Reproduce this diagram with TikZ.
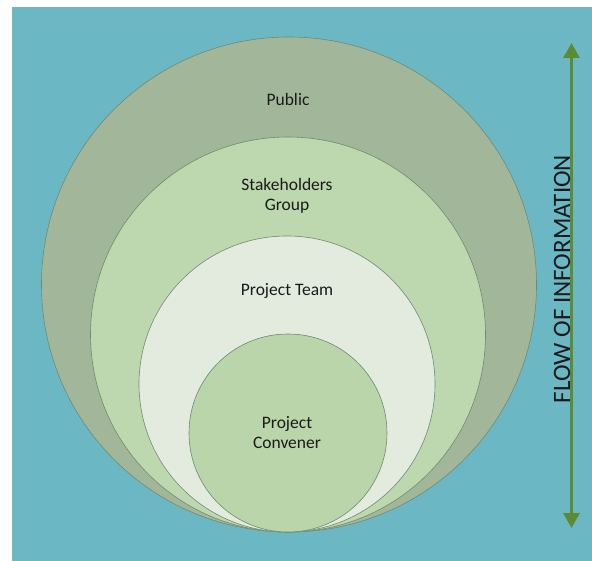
\documentclass[tikz,border=0pt]{standalone}
\usepackage{fontspec}
\setmainfont{Carlito}
\usetikzlibrary{arrows.meta}
\definecolor{bgteal}{HTML}{6BB8C4}
\definecolor{pubfill}{HTML}{A2B799}
\definecolor{stkfill}{HTML}{BDD7AF}
\definecolor{teamfill}{HTML}{E3EBDE}
\definecolor{convfill}{HTML}{BAD5AA}
\definecolor{ringline}{HTML}{6F8A70}
\definecolor{arrowgreen}{HTML}{5B8C35}
\definecolor{txt}{HTML}{1A1A1A}
\tikzset{
  ring/.style={circle, inner sep=0pt, draw=ringline, line width=0.6pt},
  lbl/.style={font=\fontsize{17.5}{20}\selectfont, text=txt, align=center, inner sep=0pt},
}
\begin{document}
\begin{tikzpicture}[x=1pt,y=-1pt]
\useasboundingbox (0,0) rectangle (592,561);
\fill[white] (0,0) rectangle (592,561);
\fill[bgteal] (12,7) rectangle (592,561);
\node[ring, fill=pubfill, minimum size=495pt] (public) at (289,284.5) {};
\node[ring, fill=stkfill, minimum size=395pt] (stake) at (288,334.5) {};
\node[ring, fill=teamfill, minimum size=296pt] (team) at (287,384) {};
\node[ring, fill=convfill, minimum size=198pt] (conv) at (288,433) {};
\node[lbl] (publbl) at (288,99) {Public};
\node[lbl] (stklbl) at (287,196) {Stakeholders\\Group};
\node[lbl] (teamlbl) at (287,291) {Project Team};
\node[lbl] (convlbl) at (287,433) {Project\\Convener};
\coordinate (atop) at (571.5,43);
\coordinate (abot) at (571.5,528);
\draw[arrowgreen, line width=3pt, {Triangle[width=16pt,length=15pt]}-{Triangle[width=16pt,length=15pt]}] (abot) -- (atop);
\node[rotate=90, font=\fontsize{25}{28}\selectfont, text=txt, inner sep=0pt] (flow) at (562,279) {FLOW OF INFORMATION};
\end{tikzpicture}
\end{document}
